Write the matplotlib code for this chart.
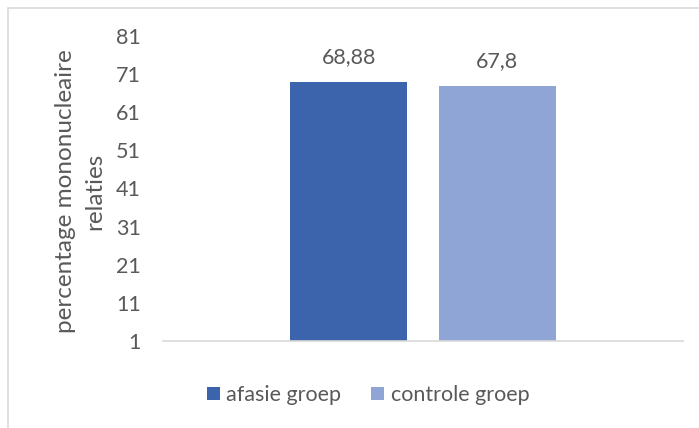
import matplotlib.pyplot as plt
from matplotlib.patches import Rectangle

# groepen en gemiddelde percentages
groepen = ["afasie groep", "controle groep"]
waarden = [68.88, 67.8]
labels = ["68,88", "67,8"]
kleuren = ["#3C64AD", "#8FA5D5"]
yticks = [1, 11, 21, 31, 41, 51, 61, 71, 81]

W, H = 699, 428
plt.rcParams['font.family'] = ['Lato', 'DejaVu Sans']
tekst = "#595959"

fig = plt.figure(figsize=(W / 100, H / 100), dpi=100)
ax = fig.add_axes([163 / W, 1 - 341 / H, 520 / W, 305 / H])

# lichte rand rond de grafiek
fig.patches.append(Rectangle((8 / W, -0.1), 1.2, 1.1 - 8 / H,
                             transform=fig.transFigure, fill=False,
                             edgecolor="#d9d9d9", linewidth=1.2))

offsets = [-0.285, 0.285]
for off, v, lab, k, g in zip(offsets, waarden, labels, kleuren, groepen):
    ax.bar(off, v - 1, bottom=1, width=0.45, color=k, label=g)
    ax.annotate(lab, (off, v), xytext=(0, 11), textcoords="offset points",
                ha="center", va="bottom", fontsize=15.5, color=tekst)

ax.set_xlim(-1, 1)
ax.set_ylim(1, 81)
ax.set_yticks(yticks)
ax.set_xticks([])
ax.tick_params(axis="y", length=0, pad=16, labelsize=15.5, labelcolor=tekst)
for s in ["top", "right", "left"]:
    ax.spines[s].set_visible(False)
ax.spines["bottom"].set_color("#d9d9d9")
ax.spines["bottom"].set_linewidth(1.2)

fig.text(80 / W, 1 - 191 / H, "percentage mononucleaire\nrelaties",
         rotation=90, ha="center", va="center", multialignment="center",
         fontsize=17.5, color=tekst, linespacing=1.5)

ax.legend(loc="center", bbox_to_anchor=(368 / W, 1 - 395 / H),
          bbox_transform=fig.transFigure, ncol=2, frameon=False,
          fontsize=15.5, labelcolor=tekst, handlelength=0.6,
          handleheight=0.6, handletextpad=0.3, columnspacing=1.4)

fig.savefig("out.png", dpi=100)
